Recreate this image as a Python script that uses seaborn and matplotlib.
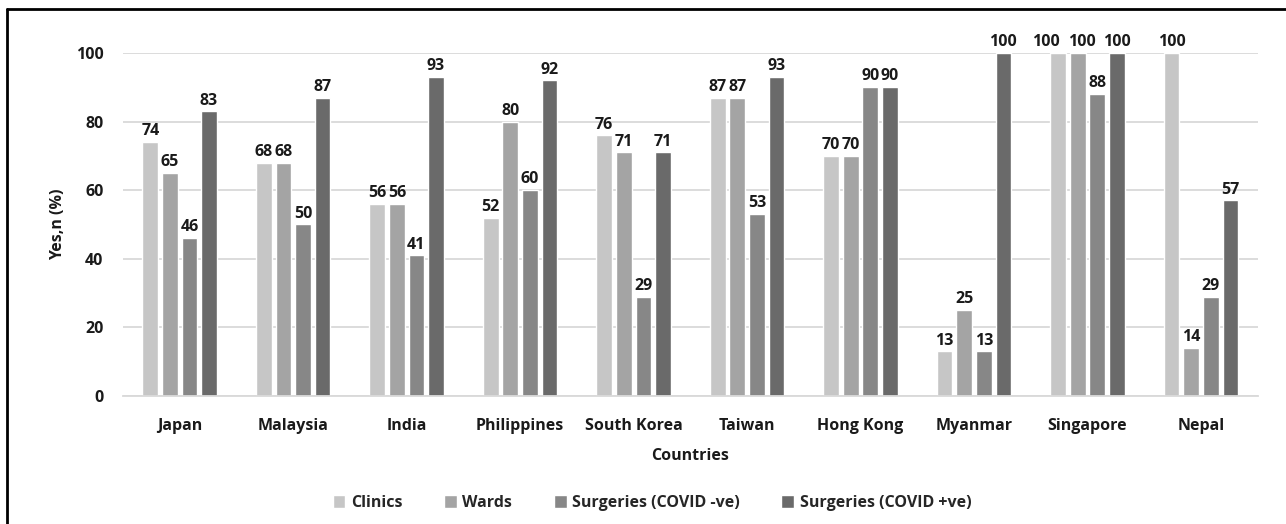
import matplotlib
matplotlib.use("Agg")
import matplotlib.pyplot as plt
from matplotlib.lines import Line2D
import seaborn as sns
import pandas as pd

countries = ["Japan", "Malaysia", "India", "Philippines", "South Korea",
             "Taiwan", "Hong Kong", "Myanmar", "Singapore", "Nepal"]
series = ["Clinics", "Wards", "Surgeries (COVID -ve)", "Surgeries (COVID +ve)"]
clinics = [74, 68, 56, 52, 76, 87, 70, 13, 100, 100]
wards = [65, 68, 56, 80, 71, 87, 70, 25, 100, 14]
surg_neg = [46, 50, 41, 60, 29, 53, 90, 13, 88, 29]
surg_pos = [83, 87, 93, 92, 71, 93, 90, 100, 100, 57]
y_ticks = [0, 20, 40, 60, 80, 100]
colors = ["#c6c6c6", "#a4a4a4", "#878787", "#6a6a6a"]

rows = []
for name, vals in zip(series, [clinics, wards, surg_neg, surg_pos]):
    for c, v in zip(countries, vals):
        rows.append({"Countries": c, "Series": name, "Value": v})
df = pd.DataFrame(rows)

sns.set_theme(style="white")
plt.rcParams["font.family"] = ["Open Sans", "DejaVu Sans"]
plt.rcParams["font.weight"] = "bold"
FS = 11.5
TXT = "#1a1a1a"

fig = plt.figure(figsize=(12.86, 5.24), dpi=100)
ax = fig.add_axes([0.0956, 0.2443, 0.8824, 0.6546])

sns.barplot(data=df, x="Countries", y="Value", hue="Series", order=countries,
            hue_order=series, palette=colors, width=0.69, gap=0.2,
            errorbar=None, ax=ax, legend=True, saturation=1)

# nudge crowded labels sideways (points) so they do not collide
nudge = {("Clinics", "Singapore"): -9, ("Wards", "Singapore"): 3}
for name, cont in zip(series, ax.containers):
    anns = ax.bar_label(cont, fmt="%d", padding=2, fontsize=FS, fontweight="bold",
                        color=TXT, clip_on=False)
    for c, ann in zip(countries, anns):
        dx = nudge.get((name, c), 0)
        if dx:
            ann.xyann = (dx, ann.xyann[1])

ax.set_ylim(0, 100)
ax.set_yticks(y_ticks)
ax.yaxis.grid(True, color="#d9d9d9", linewidth=1.3)
ax.set_axisbelow(True)
for s in ["top", "right", "left"]:
    ax.spines[s].set_visible(False)
ax.spines["bottom"].set_color("#d9d9d9")
ax.spines["bottom"].set_linewidth(1.3)
ax.tick_params(axis="both", length=0, labelsize=FS, labelcolor=TXT)
ax.tick_params(axis="y", pad=14)
ax.tick_params(axis="x", pad=16)
for t in ax.get_xticklabels() + ax.get_yticklabels():
    t.set_fontweight("bold")
ax.set_xlim(-0.5, len(countries) - 0.5)

ax.set_xlabel("Countries", fontsize=FS, fontweight="bold", color=TXT, labelpad=10)
ax.set_ylabel("Yes,n (%)", fontsize=FS, fontweight="bold", color=TXT, labelpad=7)

handles, labels = ax.get_legend_handles_labels()
ax.get_legend().remove()
fig.legend(handles, labels, loc="center", bbox_to_anchor=(0.507, 0.04), ncol=4,
           frameon=False, handlelength=0.8, handleheight=0.8,
           handletextpad=0.35, columnspacing=2.6,
           prop={"weight": "bold", "size": FS})

# frame edges
fig.add_artist(Line2D([0.0055, 0.0055], [0, 0.983], transform=fig.transFigure,
                      color="black", linewidth=2))
fig.add_artist(Line2D([0.0055, 1.0], [0.983, 0.983], transform=fig.transFigure,
                      color="black", linewidth=2))

fig.savefig("out.png", dpi=100, facecolor="white")
